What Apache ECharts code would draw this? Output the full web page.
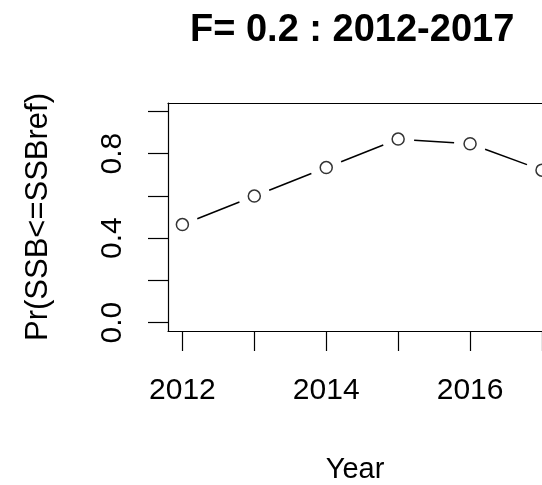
<!DOCTYPE html>
<html>
<head>
<meta charset="utf-8">
<script src="https://cdn.jsdelivr.net/npm/echarts@6/dist/echarts.min.js"></script>
<style>html,body{margin:0;padding:0;background:#fff}#c{width:542px;height:485px}</style>
</head>
<body>
<div id="c"></div>
<script>
var years = [2012, 2013, 2014, 2015, 2016, 2017];
var probs = [0.464, 0.599, 0.734, 0.869, 0.847, 0.722];
var xTickValues = [2012, 2013, 2014, 2015, 2016, 2017];
var xLabelValues = [2012, 2014, 2016];
var yTickValues = [0, 0.2, 0.4, 0.6, 0.8, 1.0];
var yLabelValues = [0, 0.4, 0.8];
var titleText = 'F= 0.2 : 2012-2017';

var pts = years.map(function (y, i) { return [y, probs[i]]; });
var font = '"Liberation Sans", Arial, sans-serif';
var GAP = 16;
var chart = echarts.init(document.getElementById('c'), null, {renderer: 'canvas'});
chart.setOption({
  animation: false,
  backgroundColor: '#fff',
  title: {
    text: titleText, left: 185, top: 7,
    textStyle: {fontFamily: font, fontSize: 38, fontWeight: 'bold', color: '#000'}
  },
  grid: {left: 168, top: 103, width: 374, height: 231, show: false, containLabel: false},
  xAxis: [{
    type: 'value', min: 2011.8, max: 2017.0,
    name: 'Year', nameLocation: 'middle', nameGap: 124,
    nameTextStyle: {fontFamily: font, fontSize: 29, color: '#000'},
    axisLine: {show: true, onZero: false, lineStyle: {color: '#000', width: 1.2}},
    axisTick: {show: true, inside: false, length: 20, customValues: xTickValues, lineStyle: {color: '#000', width: 1.2}},
    axisLabel: {show: true, customValues: xLabelValues, margin: 45, fontFamily: font, fontSize: 30, color: '#000',
      formatter: function (v) { return String(v); }},
    splitLine: {show: false}
  }, {
    type: 'value', position: 'top', min: 2011.8, max: 2017.0,
    axisLine: {show: true, onZero: false, lineStyle: {color: '#000', width: 1.2}},
    axisTick: {show: false}, axisLabel: {show: false}, splitLine: {show: false}
  }],
  yAxis: {
    type: 'value', min: -0.04, max: 1.04,
    name: 'Pr(SSB<=SSBref)', nameLocation: 'middle', nameGap: 114, nameRotate: 90,
    nameTextStyle: {fontFamily: font, fontSize: 31, color: '#000'},
    axisLine: {show: true, onZero: false, lineStyle: {color: '#000', width: 1.2}},
    axisTick: {show: true, inside: false, length: 20, customValues: yTickValues, lineStyle: {color: '#000', width: 1.2}},
    axisLabel: {show: true, customValues: yLabelValues, rotate: 90, margin: 40, fontFamily: font, fontSize: 30, color: '#000',
      formatter: function (v) { return v.toFixed(1); }},
    splitLine: {show: false}
  },
  series: [
    {type: 'custom', data: pts, z: 2, clip: false,
      renderItem: function (params, api) {
        var i = params.dataIndex;
        if (i >= pts.length - 1) return null;
        var a = api.coord(pts[i]);
        var b = api.coord(pts[i + 1]);
        var dx = b[0] - a[0], dy = b[1] - a[1];
        var len = Math.sqrt(dx * dx + dy * dy);
        var ux = dx / len, uy = dy / len;
        return {
          type: 'line',
          shape: {x1: a[0] + ux * GAP, y1: a[1] + uy * GAP, x2: b[0] - ux * GAP, y2: b[1] - uy * GAP},
          style: {stroke: '#000', lineWidth: 1.5}
        };
      }},
    {type: 'scatter', data: pts, symbol: 'circle', symbolSize: 12, z: 4, clip: false,
      itemStyle: {color: '#fff', borderColor: '#000', borderWidth: 1.5}}
  ]
});
</script>
</body>
</html>
